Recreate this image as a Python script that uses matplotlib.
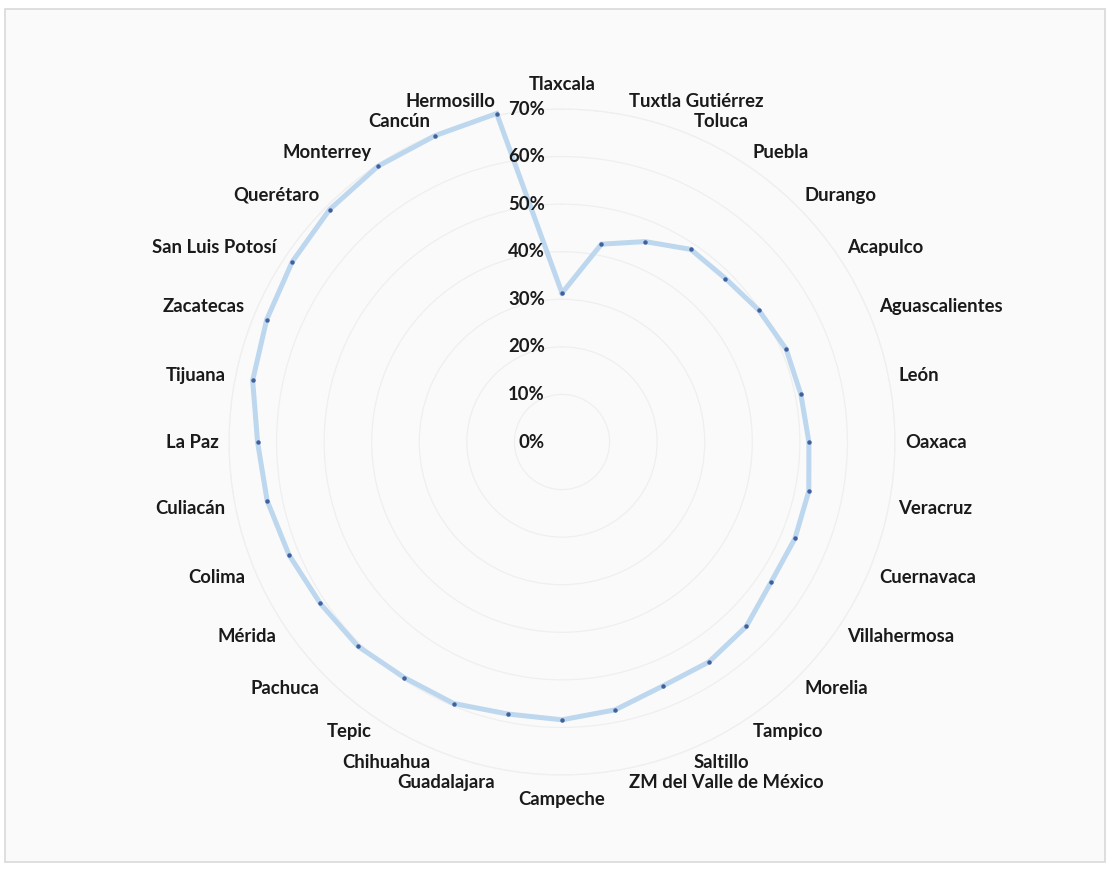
import numpy as np
import matplotlib
matplotlib.use("Agg")
import matplotlib.pyplot as plt
from matplotlib.patches import Rectangle

# ciudades en el orden del radar (sentido horario desde arriba)
ciudades = ["Tlaxcala", "Tuxtla Gutiérrez", "Toluca", "Puebla", "Durango", "Acapulco",
            "Aguascalientes", "León", "Oaxaca", "Veracruz", "Cuernavaca", "Villahermosa",
            "Morelia", "Tampico", "Saltillo", "ZM del Valle de México", "Campeche",
            "Guadalajara", "Chihuahua", "Tepic", "Pachuca", "Mérida", "Colima", "Culiacán",
            "La Paz", "Tijuana", "Zacatecas", "San Luis Potosí", "Querétaro", "Monterrey",
            "Cancún", "Hermosillo"]

valores = [31.3, 42.4, 45.6, 48.7, 48.6, 49.8, 51.0, 51.2, 51.9, 52.9, 53.0, 52.9,
           54.8, 55.6, 55.5, 57.4, 58.4, 58.3, 59.5, 59.6, 60.7, 61.1, 62.1, 63.2,
           64.0, 66.3, 67.2, 68.2, 69.1, 69.7, 69.7, 70.4]

ticks = [0, 10, 20, 30, 40, 50, 60, 70]

plt.rcParams['font.family'] = ['Lato', 'DejaVu Sans']
plt.rcParams['font.weight'] = 'bold'

W, H = 1110, 871
fig = plt.figure(figsize=(W / 100, H / 100), dpi=100, facecolor='white')

# marco del grafico
fig.patches.append(Rectangle((5 / W, 9 / H), 1100 / W, 853 / H, transform=fig.transFigure,
                             facecolor='#fafafa', edgecolor='#d9d9d9', linewidth=1.2,
                             zorder=-10))

cx, cy, R = 562, 871 - 442, 333
ax = fig.add_axes([(cx - R) / W, (cy - R) / H, 2 * R / W, 2 * R / H], projection='polar')
ax.set_facecolor('none')
ax.set_theta_zero_location('N')
ax.set_theta_direction(-1)

n = len(ciudades)
ang = np.arange(n) * 2 * np.pi / n
th = np.append(ang, ang[0])
r = np.append(valores, valores[0])

ax.plot(th, r, color='#bdd7ee', linewidth=3.6, solid_joinstyle='miter', clip_on=False, zorder=3)
ax.plot(ang, valores, 'o', color='#41609e', markersize=2.2, clip_on=False, zorder=4)

ax.set_ylim(0, 70)
ax.set_yticks(ticks[1:])
ax.set_yticklabels([])
ax.set_xticks(ang)
ax.set_xticklabels([])
ax.xaxis.grid(False)
ax.yaxis.grid(True, color='#efefef', linewidth=0.9)
ax.spines['polar'].set_color('#efefef')
ax.spines['polar'].set_linewidth(0.9)
ax.tick_params(length=0)

# etiquetas del eje de valores
for t in ticks:
    ax.annotate(f"{t}%", xy=(0, t), xytext=(-17, 0), textcoords='offset pixels',
                ha='right', va='center', fontsize=13.3, fontweight='bold', color='#1a1a1a',
                annotation_clip=False)

# etiquetas de categorias
for a, nombre in zip(ang, ciudades):
    s, c = np.sin(a), np.cos(a)
    if abs(s) < 1e-6:
        ha = 'center'
        va = 'bottom' if c > 0 else 'top'
        off = (0, 16 * np.sign(c))
    else:
        ha = 'left' if s > 0 else 'right'
        va = 'center'
        off = (10 * s, 10 * c + 4 * np.sign(c) * (abs(c) > 0.2))
    ax.annotate(nombre, xy=(a, 70), xytext=off, textcoords='offset pixels',
                ha=ha, va=va, fontsize=13.3, fontweight='bold', color='#1a1a1a',
                annotation_clip=False)

fig.savefig('out.png', dpi=100, facecolor='white')
